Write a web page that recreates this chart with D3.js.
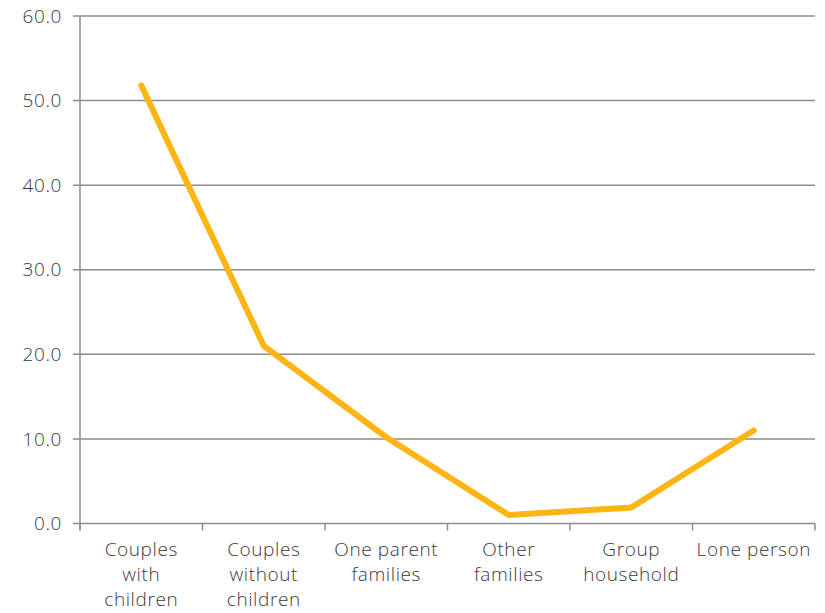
<!DOCTYPE html>
<html>
<head>
<meta charset="utf-8">
<script src="https://cdn.jsdelivr.net/npm/d3@7"></script>
<style>
  body { margin: 0; background: #fff; }
  svg text { font-family: "Open Sans", "DejaVu Sans", sans-serif; font-weight: 300; fill: #3a3a3a; letter-spacing: 0.6px; }
</style>
</head>
<body>
<svg id="chart" width="825" height="613"></svg>
<script>
// household types and their share (%)
var categories = [["Couples", "with", "children"], ["Couples", "without", "children"], ["One parent", "families"], ["Other", "families"], ["Group", "household"], ["Lone person"]];
var values = [51.8, 21.0, 10.2, 1.0, 1.9, 11.0];
var yTicks = [0, 10, 20, 30, 40, 50, 60];

var svg = d3.select('#chart');
var plotLeft = 80, plotRight = 815, plotTop = 16, plotBottom = 523.5;

var x = d3.scaleBand()
        .domain(d3.range(categories.length))
        .range([plotLeft, plotRight]);

var y = d3.scaleLinear()
        .domain([0, 60])
        .range([plotBottom, plotTop]);

// gridlines
svg.append('g')
   .selectAll('line')
   .data(yTicks)
   .enter()
   .append('line')
   .attr('x1', plotLeft - 7)
   .attr('x2', plotRight)
   .attr('y1', d => y(d))
   .attr('y2', d => y(d))
   .attr('stroke', '#8c8c8c')
   .attr('stroke-width', 1.5);

// y labels
svg.append('g')
   .selectAll('text')
   .data(yTicks)
   .enter()
   .append('text')
   .attr('x', 62)
   .attr('y', d => y(d))
   .attr('dy', '0.35em')
   .attr('text-anchor', 'end')
   .style('font-size', '19px')
   .text(d => d.toFixed(1));

// y axis line
svg.append('line')
   .attr('x1', plotLeft).attr('x2', plotLeft)
   .attr('y1', plotTop).attr('y2', plotBottom + 7)
   .attr('stroke', '#8c8c8c')
   .attr('stroke-width', 1.5);

// x axis ticks at band edges
var edges = d3.range(categories.length).map(i => x(i)).concat([plotRight]);
svg.append('g')
   .selectAll('line')
   .data(edges)
   .enter()
   .append('line')
   .attr('x1', d => d).attr('x2', d => d)
   .attr('y1', plotBottom).attr('y2', plotBottom + 7)
   .attr('stroke', '#8c8c8c')
   .attr('stroke-width', 1.5);

// category labels
var lab = svg.append('g')
   .selectAll('text')
   .data(categories)
   .enter()
   .append('text')
   .attr('text-anchor', 'middle')
   .style('font-size', '19px')
   .attr('transform', (d, i) => 'translate(' + (x(i) + x.bandwidth() / 2) + ',556)');

lab.selectAll('tspan')
   .data(d => d)
   .enter()
   .append('tspan')
   .attr('x', 0)
   .attr('y', (d, i) => i * 25)
   .text(d => d);

// the line
var line = d3.line()
    .x((d, i) => x(i) + x.bandwidth() / 2)
    .y(d => y(d));

svg.append('path')
   .datum(values)
   .attr('d', line)
   .attr('fill', 'none')
   .attr('stroke', '#FDB515')
   .attr('stroke-width', 6)
   .attr('stroke-linecap', 'round')
   .attr('stroke-linejoin', 'round');
</script>
</body>
</html>
